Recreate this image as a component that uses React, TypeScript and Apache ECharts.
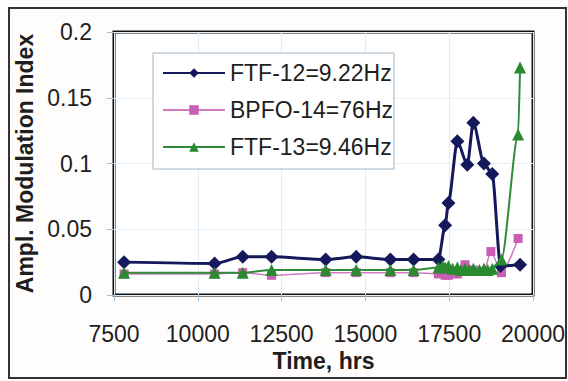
import React, { useEffect, useRef } from "react";
import * as echarts from "echarts";

const seriesNames = ["FTF-12=9.22Hz", "BPFO-14=76Hz", "FTF-13=9.46Hz"];

const ftf12Times = [7800, 10500, 11340, 12200, 13815, 14725, 15745, 16437, 17179, 17378, 17476, 17743, 18040, 18218, 18536, 18783, 19030, 19614];
const ftf12Values = [0.025, 0.024, 0.029, 0.029, 0.027, 0.029, 0.027, 0.027, 0.027, 0.053, 0.07, 0.117, 0.099, 0.131, 0.1, 0.092, 0.022, 0.023];

const bpfoTimes = [7800, 10500, 11340, 12200, 13815, 14725, 15745, 16437, 17179, 17378, 17476, 17743, 17972, 18218, 18536, 18743, 19059, 19555];
const bpfoValues = [0.016, 0.016, 0.017, 0.015, 0.017, 0.017, 0.017, 0.017, 0.016, 0.015, 0.015, 0.016, 0.023, 0.019, 0.018, 0.033, 0.017, 0.043];

const ftf13Times = [7800, 10500, 11340, 12200, 13815, 14725, 15745, 16437, 17179, 17300, 17378, 17476, 17600, 17743, 17850, 17972, 18100, 18218, 18400, 18536, 18650, 18783, 19059, 19555, 19614];
const ftf13Values = [0.017, 0.017, 0.017, 0.019, 0.019, 0.019, 0.019, 0.019, 0.021, 0.022, 0.021, 0.022, 0.02, 0.021, 0.019, 0.02, 0.019, 0.02, 0.019, 0.02, 0.019, 0.02, 0.027, 0.122, 0.173];

const xTicks = { min: 7500, max: 20000, interval: 2500 };
const yTicks = { min: 0, max: 0.2, interval: 0.05 };

const pair = (t: number[], v: number[]) => t.map((x, i) => [x, v[i]]);

const FONT = "Liberation Sans, Arial, sans-serif";

export default function App() {
  const ref = useRef<HTMLDivElement>(null);
  useEffect(() => {
    if (!ref.current) return;
    const chart = echarts.init(ref.current, undefined, { renderer: "svg" });
    chart.setOption({
      animation: false,
      backgroundColor: "#fffdfb",
      textStyle: { fontFamily: FONT },
      graphic: [
        {
          type: "rect",
          shape: { x: 9, y: 8, width: 557, height: 370 },
          style: { fill: "none", stroke: "#333333", lineWidth: 2 },
          silent: true,
        },
      ],
      grid: {
        left: 114,
        right: 33,
        top: 32,
        bottom: 86,
        show: true,
        borderColor: "#111",
        borderWidth: 3,
        backgroundColor: "#ffffff",
      },
      legend: {
        orient: "vertical",
        left: 153,
        top: 53,
        padding: [7, 1, 9, 9],
        itemGap: 11,
        itemWidth: 62,
        itemHeight: 12,
        backgroundColor: "#ffffff",
        borderColor: "#9fb4c6",
        borderWidth: 1,
        data: seriesNames,
        textStyle: { fontFamily: FONT, fontSize: 23, color: "#1e1e1e", lineHeight: 26 },
      },
      xAxis: {
        type: "value",
        min: xTicks.min,
        max: xTicks.max,
        interval: xTicks.interval,
        name: "Time, hrs",
        nameLocation: "middle",
        nameGap: 52,
        nameTextStyle: { fontFamily: FONT, fontSize: 23, fontWeight: "bold", color: "#1e1e1e" },
        axisLine: { show: false },
        axisTick: { show: true, length: 6, lineStyle: { color: "#9cc0dc" } },
        axisLabel: {
          margin: 27,
          fontFamily: FONT,
          fontSize: 23,
          color: "#1e1e1e",
          formatter: (v: number) => String(v),
        },
        splitLine: { show: true, lineStyle: { color: "#e2ecf5", width: 1 } },
      },
      yAxis: {
        type: "value",
        min: yTicks.min,
        max: yTicks.max,
        interval: yTicks.interval,
        name: "Ampl. Modulation Index",
        nameLocation: "middle",
        nameGap: 74,
        nameTextStyle: { fontFamily: FONT, fontSize: 23, fontWeight: "bold", color: "#1e1e1e" },
        axisLine: { show: false },
        axisTick: { show: true, length: 7, lineStyle: { color: "#9cc0dc" } },
        axisLabel: {
          margin: 22,
          fontFamily: FONT,
          fontSize: 23,
          color: "#1e1e1e",
          formatter: (v: number) => String(Math.round(v * 100) / 100),
        },
        splitLine: { show: true, lineStyle: { color: "#e8f0f7", width: 1 } },
      },
      series: [
        {
          name: seriesNames[0],
          type: "line",
          data: pair(ftf12Times, ftf12Values),
          smooth: 0.25,
          smoothMonotone: "x",
          symbol: "diamond",
          symbolSize: 14,
          itemStyle: { color: "#15185a" },
          lineStyle: { color: "#15185a", width: 3 },
          z: 3,
        },
        {
          name: seriesNames[1],
          type: "line",
          data: pair(bpfoTimes, bpfoValues),
          smooth: 0.25,
          smoothMonotone: "x",
          symbol: "rect",
          symbolSize: 9,
          itemStyle: { color: "#c95fb5" },
          lineStyle: { color: "#cf7cc0", width: 1.5 },
          z: 2,
        },
        {
          name: seriesNames[2],
          type: "line",
          data: pair(ftf13Times, ftf13Values),
          smooth: 0.25,
          smoothMonotone: "x",
          symbol: "triangle",
          symbolSize: 12,
          itemStyle: { color: "#2a8a30" },
          lineStyle: { color: "#2f8a3a", width: 2 },
          z: 4,
        },
      ],
    });
    return () => chart.dispose();
  }, []);
  return (
    <div
      ref={ref}
      style={{ position: "fixed", left: 0, top: 0, width: 568, height: 381 }}
    />
  );
}
